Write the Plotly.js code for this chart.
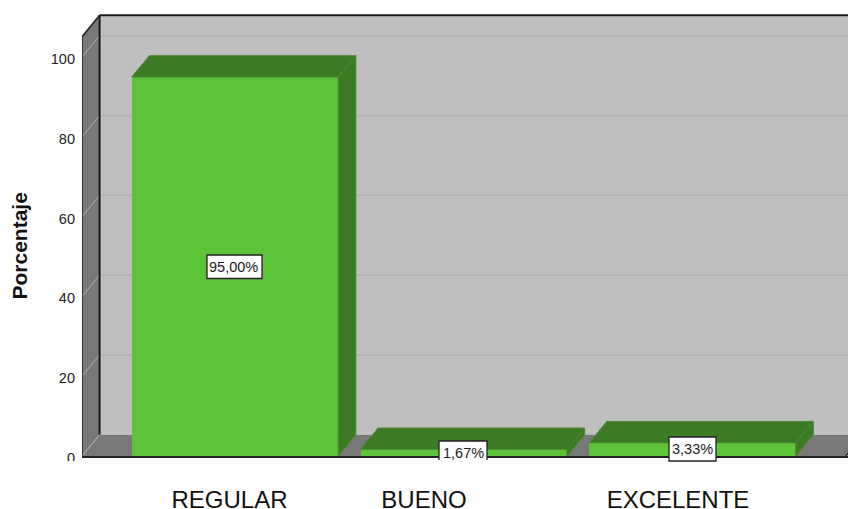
<!DOCTYPE html>
<html><head><meta charset="utf-8">
<script src="https://cdn.plot.ly/plotly-3.0.1.min.js"></script>
<style>html,body{margin:0;padding:0;background:#fff;overflow:hidden}#c{width:848px;height:509px}</style>
</head><body><div id="c"></div>
<script>
const categories = ['REGULAR', 'BUENO', 'EXCELENTE'];
const values = [95.0, 1.67, 3.33];
const valueLabels = ['95,00%', '1,67%', '3,33%'];
const yTicks = [0, 20, 40, 60, 80, 100];

// layout geometry (pixels of the 848x509 page)
const W = 848, H = 509, ml = 82, mt = 10, y0px = 456;
const pxPerUnit = 3.99, pxPerCat = 228.75, cat0px = 235;
const barWidth = 206.5 / pxPerCat;
const dx = 17.6 / pxPerCat, dy = 21.3 / pxPerUnit;           // 3-D depth
const X = px => (px - cat0px) / pxPerCat;
const yMax = (y0px - mt) / pxPerUnit;
const wallTop = 105.1;
const xL = X(ml), xR = X(W - 2);                             // front edges of floor
const pt = (x, y) => ({ x, y });
const pathOf = pts => 'M' + pts.map(p => p.x + ',' + p.y).join(' L') + ' Z';

const GREEN = '#5dc338', DARK = '#3c7a24', EDGE = '#4b8533';
const face = (pts) => ({
  type: 'scatter', mode: 'lines', fill: 'toself', fillcolor: DARK,
  line: { color: EDGE, width: 1 }, hoverinfo: 'skip', showlegend: false,
  x: pts.map(p => p.x).concat(pts[0].x), y: pts.map(p => p.y).concat(pts[0].y)
});

const traces = [{
  type: 'bar', x: categories.map((_, i) => i), y: values, width: barWidth,
  marker: { color: GREEN, line: { width: 0 } }, hoverinfo: 'skip', showlegend: false
}];
values.forEach((v, i) => {
  const a = i - barWidth / 2, b = i + barWidth / 2;
  traces.push(face([pt(a, v), pt(a + dx, v + dy), pt(b + dx, v + dy), pt(b, v)]));
  traces.push(face([pt(b, 0), pt(b + dx, dy), pt(b + dx, v + dy), pt(b, v)]));
});

const shapes = [
  // back wall, floor, left wall
  { type: 'path', layer: 'below', line: { width: 0 }, fillcolor: '#bfbfbf',
    path: pathOf([pt(xL + dx, dy), pt(xL + dx, wallTop + dy), pt(xR + dx, wallTop + dy), pt(xR + dx, dy)]) },
  { type: 'path', layer: 'below', line: { width: 0 }, fillcolor: '#787878',
    path: pathOf([pt(xL, 0), pt(xL + dx, dy), pt(xR + dx, dy), pt(xR, 0)]) },
  { type: 'path', layer: 'below', line: { width: 0 }, fillcolor: '#787878',
    path: pathOf([pt(xL, 0), pt(xL + dx, dy), pt(xL + dx, wallTop + dy), pt(xL, wallTop)]) }
];
yTicks.forEach(t => {
  const c = '#b3b3b3';
  if (t > 0) shapes.push({ type: 'line', layer: 'below', x0: xL + dx, x1: xR + dx, y0: t + dy, y1: t + dy, line: { color: c, width: 1.5 } });
  shapes.push({ type: 'line', layer: 'below', x0: xL, x1: xL + dx, y0: t, y1: t + dy, line: { color: c, width: 1 } });
});
// frame lines
const frame = (a, b, w) => shapes.push({ type: 'line', layer: 'below', x0: a.x, y0: a.y, x1: b.x, y1: b.y, line: { color: '#1c1c1c', width: w } });
frame(pt(xL, 0), pt(xL, wallTop), 1.5);
frame(pt(xL, wallTop), pt(xL + dx, wallTop + dy), 1.5);
frame(pt(xL + dx, dy), pt(xL + dx, wallTop + dy), 2);
frame(pt(xL + dx, wallTop + dy), pt(xR + dx, wallTop + dy), 2);
frame(pt(xR, 0), pt(xR + dx, dy), 1.5);

// clip of the bottom of the "0" tick label and of the middle value label
const boxes = [
  { l: 207, r: 262, t: 255, b: 278.5, tc: 266.5, cx: 233.5 },
  { l: 439, r: 487, t: 441, b: 460, tc: 453, cx: 463, open: true },
  { l: 669, r: 716, t: 437, b: 461, tc: 449, cx: 692 }
];
const page = { xref: 'paper', yref: 'paper' };
const PX = px => (px - ml) / (W - ml), PY = py => (y0px - py) / (y0px - mt);
shapes.push(Object.assign({ type: 'rect', layer: 'above', x0: PX(40), x1: PX(80), y0: PY(461), y1: PY(475), fillcolor: '#fff', line: { width: 0 } }, page));
boxes.forEach(b => {
  const p = 'M' + [[b.l, b.b], [b.l, b.t], [b.r, b.t], [b.r, b.b]].map(q => PX(q[0]) + ',' + PY(q[1])).join(' L') + (b.open ? '' : ' Z');
  shapes.push(Object.assign({ type: 'path', layer: 'above', path: p, fillcolor: '#fff', line: { color: '#222', width: 1.3 } }, page));
});

const annotations = values.map((v, i) => ({
  xref: 'paper', yref: 'paper', x: PX(boxes[i].cx), y: PY(boxes[i].tc),
  text: valueLabels[i], showarrow: false, xanchor: 'center', yanchor: 'middle',
  font: { family: 'Liberation Sans, Arial, sans-serif', size: 14.5, color: '#222' }
}));
annotations.push({
  xref: 'paper', yref: 'paper', x: PX(19), y: PY(246.5), text: '<b>Porcentaje</b>', textangle: -90,
  showarrow: false, xanchor: 'center', yanchor: 'middle',
  font: { family: 'Liberation Sans, Arial, sans-serif', size: 21, color: '#111' }
});

const labelPx = [229.5, 424, 678];
const layout = {
  width: W, height: H, paper_bgcolor: '#fff', plot_bgcolor: '#fff',
  margin: { l: ml, r: 0, t: mt, b: H - y0px, pad: 0 },
  font: { family: 'Liberation Sans, Arial, sans-serif', color: '#222' },
  bargap: 0,
  xaxis: {
    range: [xL, X(W)], showgrid: false, zeroline: false, showline: true, linecolor: '#222', linewidth: 2,
    tickmode: 'array', tickvals: labelPx.map(X), ticktext: categories, ticklen: 0, ticklabelstandoff: 21,
    tickfont: { size: 24, color: '#111' }
  },
  yaxis: {
    range: [0, yMax], showgrid: false, zeroline: false, showline: false,
    tickmode: 'array', tickvals: yTicks, ticklen: 0, ticklabelstandoff: 6, ticklabelshift: 2,
    tickfont: { size: 14.5, color: '#222' }
  },
  shapes, annotations
};
Plotly.newPlot('c', traces, layout, { displayModeBar: false, staticPlot: true });
</script></body></html>
